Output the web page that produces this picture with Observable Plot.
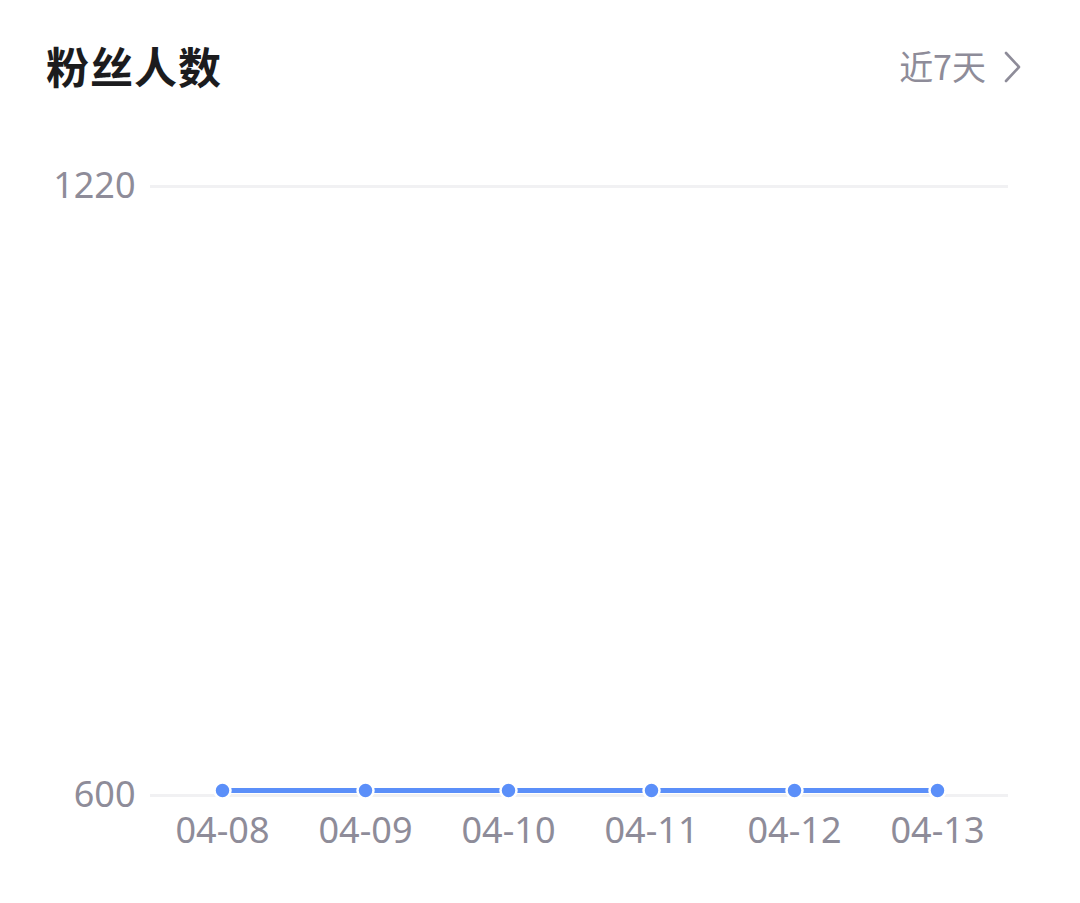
<!DOCTYPE html>
<html>
<head>
<meta charset="utf-8">
<script src="https://cdn.jsdelivr.net/npm/d3@7"></script>
<script src="https://cdn.jsdelivr.net/npm/@observablehq/plot@0.6"></script>
<style>
  html, body { margin: 0; padding: 0; background: #fff; width: 1080px; height: 903px; overflow: hidden; }
  body { font-family: "Noto Sans CJK SC", "Noto Sans", sans-serif; }
  #header { position: relative; height: 130px; }
  #title { position: absolute; left: 46px; top: 40px; font-size: 43px; line-height: 50px; font-weight: 700; color: #1c1c1e; letter-spacing: 1px; }
  #range { position: absolute; right: 94px; top: 44px; font-size: 34px; line-height: 44px; color: #8e8c99; }
  #chev { position: absolute; left: 1003px; top: 51px; }
  #chart svg { display: block; }
</style>
</head>
<body>
<div id="header">
  <div id="title">粉丝人数</div>
  <div id="range">近7天</div>
  <svg id="chev" width="20" height="34" viewBox="0 0 20 34"><polyline points="3,2 16,16 3,30" fill="none" stroke="#8e8c99" stroke-width="2.6" stroke-linecap="round" stroke-linejoin="round"/></svg>
</div>
<div id="chart"></div>
<script>
const dates = ["04-08", "04-09", "04-10", "04-11", "04-12", "04-13"];
const fans = [605, 605, 605, 605, 605, 605];
const yTicks = [600, 1220];

const data = dates.map((d, i) => ({date: d, value: fans[i]}));

const chart = Plot.plot({
  width: 1080,
  height: 773,
  marginTop: 56,
  marginBottom: 108,
  marginLeft: 150,
  marginRight: 72,
  style: {fontFamily: '"Noto Sans", "Noto Sans CJK SC", sans-serif', background: "#fff"},
  x: {type: "point", domain: dates, padding: 0.5, label: null},
  y: {domain: [600, 1220], label: null},
  marks: [
    Plot.ruleY(yTicks, {stroke: "#f1f1f3", strokeWidth: 3}),
    Plot.axisY({ticks: yTicks, tickSize: 0, tickPadding: 15, fontSize: 36, fill: "#8e8c99", label: null, tickFormat: d => String(d)}),
    Plot.axisX({tickSize: 0, tickPadding: 22, fontSize: 36, fill: "#8e8c99", label: null}),
    Plot.line(data, {x: "date", y: "value", stroke: "#5b8ff9", strokeWidth: 5}),
    Plot.dot(data, {x: "date", y: "value", r: 8, fill: "#5b8ff9", stroke: "#fff", strokeWidth: 2.5})
  ]
});
document.getElementById("chart").appendChild(chart);
</script>
</body>
</html>
